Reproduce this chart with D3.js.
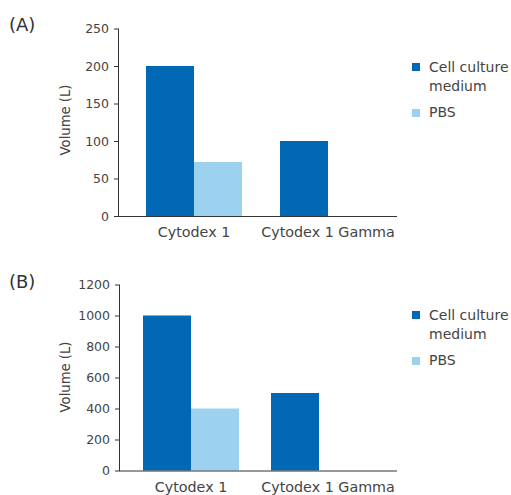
<!DOCTYPE html>
<html>
<head>
<meta charset="utf-8">
<script src="https://cdn.jsdelivr.net/npm/d3@7"></script>
<style>
  body { margin: 0; background: #fff; }
  svg { display: block; font-family: "DejaVu Sans", sans-serif; }
</style>
</head>
<body>
<div class="vis"></div>
<script>
// data
const categories = ['Cytodex 1', 'Cytodex 1 Gamma'];
const seriesNames = ['Cell culture medium', 'PBS'];
const mediumA = [200, 100];
const pbsA = [72, 0];
const ticksA = [0, 50, 100, 150, 200, 250];
const mediumB = [1000, 500];
const pbsB = [400, 0];
const ticksB = [0, 200, 400, 600, 800, 1000, 1200];

const colors = ['#0068b4', '#9dd1f0'];
const axisColor = '#333';
const textColor = '#444';

const svg = d3.select('.vis').append('svg')
    .attr('width', 511).attr('height', 495);

const drawPanel = (p) => {
    let g = svg.append('g');

    let y = d3.scaleLinear()
        .domain([0, d3.max(p.ticks)])
        .range([p.y0, p.y1]);
    let x = d3.scaleBand()
        .domain(categories)
        .range([p.bandStart, p.bandStart + 2 * p.step])
        .paddingInner(0);
    let xs = d3.scaleBand()
        .domain(seriesNames)
        .range([0, 2 * p.barW]);

    // bars
    let rows = categories.map((c, i) => ({cat: c, vals: [p.medium[i], p.pbs[i]]}));
    let groups = g.append('g').selectAll('g')
        .data(rows).enter().append('g')
        .attr('transform', d => 'translate(' + (x(d.cat) + x.bandwidth() / 2 - p.barW) + ',0)');
    groups.selectAll('rect')
        .data(d => d.vals.map((v, j) => ({name: seriesNames[j], v: v, j: j})))
        .enter().append('rect')
        .attr('x', d => xs(d.name))
        .attr('width', xs.bandwidth())
        .attr('y', d => y(d.v))
        .attr('height', d => y(0) - y(d.v))
        .attr('fill', d => colors[d.j]);

    // y axis
    let yAxis = g.append('g')
        .attr('transform', 'translate(' + p.axisX + ',0)')
        .call(d3.axisLeft(y).tickValues(p.ticks).tickSize(4).tickPadding(5).tickFormat(d3.format('d')));
    yAxis.select('.domain').attr('stroke', axisColor).attr('d', 'M0.5,' + p.y1 + 'V' + (p.y0 + 0.5));
    yAxis.selectAll('line').attr('stroke', axisColor);
    yAxis.selectAll('text').attr('fill', textColor).attr('font-size', 12.5)
        .attr('font-family', '"DejaVu Sans", sans-serif');

    // x axis line
    g.append('line')
        .attr('x1', p.axisX).attr('x2', p.axisEnd)
        .attr('y1', y(0) + 0.5).attr('y2', y(0) + 0.5)
        .attr('stroke', axisColor);

    g.append('g').selectAll('text')
        .data(categories).enter().append('text')
        .attr('x', (d, i) => x(d) + x.bandwidth() / 2 + p.labelShift[i])
        .attr('y', y(0) + 21)
        .attr('text-anchor', 'middle')
        .attr('font-size', 14.3)
        .attr('fill', textColor)
        .text(d => d);

    // y label
    g.append('text')
        .attr('transform', 'translate(' + 70 + ',' + p.labelY + ') rotate(-90)')
        .attr('text-anchor', 'middle')
        .attr('font-size', 13.2)
        .attr('fill', textColor)
        .text('Volume (L)');

    // panel letter
    g.append('text')
        .attr('x', 9).attr('y', p.letterY)
        .attr('font-size', 18)
        .attr('fill', '#333')
        .text(p.letter);

    // legend
    let lg = g.append('g').attr('transform', 'translate(412,' + p.legY + ')');
    lg.append('rect').attr('x', 0).attr('y', 0).attr('width', 8).attr('height', 8).attr('fill', colors[0]);
    lg.append('text').attr('x', 17).attr('y', 9).attr('font-size', 14).attr('fill', textColor)
        .text('Cell culture');
    lg.append('text').attr('x', 17).attr('y', 28).attr('font-size', 14).attr('fill', textColor)
        .text('medium');
    lg.append('rect').attr('x', 0).attr('y', 46).attr('width', 8).attr('height', 8).attr('fill', colors[1]);
    lg.append('text').attr('x', 17).attr('y', 54).attr('font-size', 14).attr('fill', textColor)
        .text('PBS');
};

drawPanel({letter: '(A)', letterY: 31, medium: mediumA, pbs: pbsA, ticks: ticksA,
    y0: 216, y1: 28.5, axisX: 118, axisEnd: 397, bandStart: 127, step: 134, barW: 48,
    labelY: 120, legY: 63, labelShift: [0, 0]});
drawPanel({letter: '(B)', letterY: 288, medium: mediumB, pbs: pbsB, ticks: ticksB,
    y0: 470.5, y1: 284.5, axisX: 119, axisEnd: 397, bandStart: 127, step: 128, barW: 48,
    labelY: 377, legY: 311, labelShift: [0, 9]});
</script>
</body>
</html>
